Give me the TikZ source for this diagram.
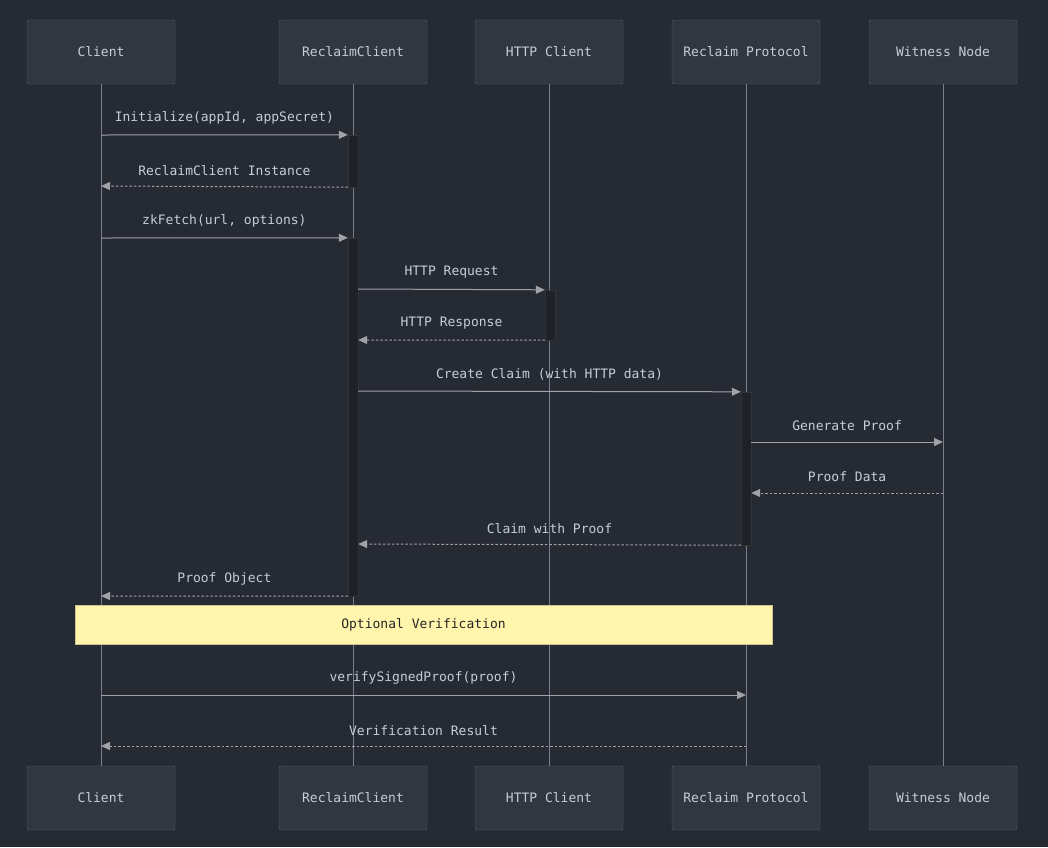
\documentclass[tikz,border=0pt]{standalone}
\usepackage{fontspec}
\setmonofont{DejaVu Sans Mono}
\usetikzlibrary{arrows.meta, calc, positioning}
\definecolor{bgdark}{HTML}{262A33}
\definecolor{boxfill}{HTML}{32363F}
\definecolor{boxline}{HTML}{5C606C}
\definecolor{lifegray}{HTML}{7A7E8A}
\definecolor{msgtext}{HTML}{C8CCD4}
\definecolor{actfill}{HTML}{1E2127}
\definecolor{notefill}{HTML}{FFF5AD}

\begin{document}
\begin{tikzpicture}[
		x=1pt, y=-1pt,
		font=\ttfamily\fontsize{13}{15}\selectfont,
		actor/.style = {draw=boxline, fill=boxfill, rounded corners=2pt, minimum width=148pt, minimum height=64pt, text=msgtext, inner sep=0pt},
		life/.style = {draw=lifegray, line width=1pt},
		act/.style = {draw=black!80, fill=actfill, minimum width=10pt, inner sep=0pt},
		msg/.style = {draw=msgtext!80!black, line width=1pt, -{Triangle[length=9pt, width=8pt]}},
		reply/.style = {msg, dash pattern=on 2.5pt off 2pt},
		msglabel/.style = {text=msgtext, above=7pt}
		]
		\fill[bgdark] (0,0) rectangle (1048,847);
		% participants
		\foreach \x/\name/\txt in {101/cl/Client, 353/rc/ReclaimClient, 549/hc/HTTP Client, 746/rp/Reclaim Protocol, 943/wn/Witness Node} {
			\draw[life] (\x,84) -- (\x,766);
			\node[actor] (\name top) at (\x,52) {\txt};
			\node[actor] (\name bot) at (\x,798) {\txt};
		}
		% activations
		\node[act, minimum height=52pt] (rc1) at (353,161) {};
		\node[act, minimum height=358pt] (rc2) at (353,417) {};
		\node[act, minimum height=50pt] (hc1) at (550,315) {};
		\node[act, minimum height=153pt] (rp1) at (746,468.5) {};
		
		\draw[msg] (101,135) -- node[msglabel] {Initialize(appId, appSecret)} (rc1.north west);
		\draw[reply] (rc1.south west) -- node[msglabel] {ReclaimClient Instance} (101,186);
		\draw[msg] (101,238) -- node[msglabel] {zkFetch(url, options)} (rc2.north west);
		\draw[msg] (rc2.east |- 0,289) -- node[msglabel] {HTTP Request} (hc1.north west);
		\draw[reply] (hc1.south west) -- node[msglabel] {HTTP Response} (rc2.east |- 0,340);
		\draw[msg] (rc2.east |- 0,391) -- node[msglabel] {Create Claim (with HTTP data)} (rp1.north west);
		\draw[msg] (rp1.east |- 0,442) -- node[msglabel] {Generate Proof} (943,442);
		\draw[reply] (943,493) -- node[msglabel] {Proof Data} (rp1.east |- 0,493);
		\draw[reply] (rp1.south west) -- node[msglabel] {Claim with Proof} (rc2.east |- 0,544);
		\draw[reply] (rc2.south west) -- node[msglabel] {Proof Object} (101,596);
		
		\node[fill=notefill, draw=notefill!80!black, minimum width=697pt, minimum height=39pt, text=black!85] (note) at (423.5,624.5) {Optional Verification};
		
		\draw[msg] (101,695) -- node[msglabel] {verifySignedProof(proof)} (746,695);
		\draw[reply] (746,746) -- node[msglabel] {Verification Result} (101,746);
\end{tikzpicture}
\end{document}
